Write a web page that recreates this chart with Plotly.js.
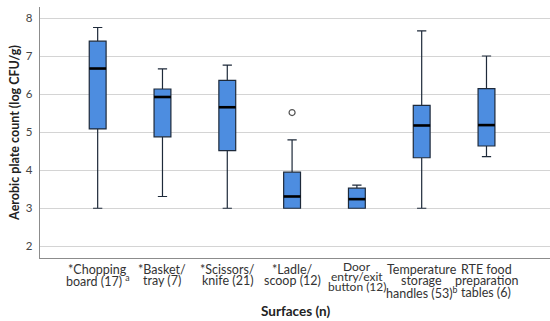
<!DOCTYPE html>
<html>
<head>
<meta charset="utf-8">
<script src="https://cdn.plot.ly/plotly-3.0.1.min.js"></script>
<style>html,body{margin:0;padding:0;background:#fff;}#chart{width:550px;height:321px;}</style>
</head>
<body>
<div id="chart"></div>
<script>
// Categories (x tick labels, lines separated by <br>)
const categories = [
  "*Chopping<br>board (17)\u00a0<sup>a</sup>",
  "*Basket/<br>tray (7)",
  "*Scissors/<br>knife (21)",
  "*Ladle/<br>scoop (12)",
  "Door<br>entry/exit<br>button (12)",
  "Temperature<br>storage<br>handles (53)<sup>b</sup>",
  "RTE food<br>preparation<br>tables (6)"
];
// Box statistics (log CFU/g)
const lowerWhisker = [3.00, 3.31, 3.00, 3.00, 3.00, 3.00, 4.36];
const q1Values     = [5.09, 4.88, 4.52, 3.00, 3.00, 4.33, 4.64];
const medians      = [6.68, 5.93, 5.66, 3.31, 3.24, 5.18, 5.19];
const q3Values     = [7.40, 6.14, 6.37, 3.95, 3.53, 5.71, 6.15];
const upperWhisker = [7.76, 6.67, 6.77, 4.80, 3.61, 7.67, 7.01];
// Outliers
const outlierCategory = [3];
const outlierValues   = [5.52];
// Y tick values
const yTicks = [2, 3, 4, 5, 6, 7, 8];

const positions = categories.map((c, i) => i);
const boxWidth = 0.26;
const compactLabel = 4; // the door label is set tighter in the source

const medX = [], medY = [];
positions.forEach((p, i) => {
  medX.push(p - boxWidth / 2, p + boxWidth / 2, null);
  medY.push(medians[i], medians[i], null);
});

const data = [
  {
    type: 'box',
    x: positions,
    q1: q1Values,
    median: medians,
    q3: q3Values,
    lowerfence: lowerWhisker,
    upperfence: upperWhisker,
    width: boxWidth,
    whiskerwidth: 0.55,
    fillcolor: '#4d8de0',
    line: {color: '#1e2a3a', width: 1.2},
    boxpoints: false,
    hoverinfo: 'none',
    showlegend: false
  },
  {
    type: 'scatter',
    mode: 'lines',
    x: medX,
    y: medY,
    line: {color: '#000000', width: 2.6},
    hoverinfo: 'none',
    showlegend: false
  },
  {
    type: 'scatter',
    mode: 'markers',
    x: outlierCategory,
    y: outlierValues,
    marker: {symbol: 'circle-open', size: 6, color: '#555555', line: {width: 1.2}},
    hoverinfo: 'none',
    showlegend: false
  }
];

// x category labels drawn line by line for the source's tighter line spacing
const annotations = [];
categories.forEach((label, i) => {
  const lines = label.split('<br>');
  const compact = (i === compactLabel);
  const first = compact ? 8.7 : 11;
  const step = compact ? 9.7 : 11.7;
  lines.forEach((ln, j) => {
    annotations.push({
      xref: 'x', yref: 'paper', x: positions[i], y: 0,
      xanchor: 'center', yanchor: 'middle',
      yshift: -(first + j * step),
      text: ln, showarrow: false, borderpad: 0,
      font: {size: compact ? 12 : 12.5, color: '#333333'}
    });
  });
});
annotations.push({
  xref: 'paper', yref: 'paper', x: 0.5, y: 0,
  xanchor: 'center', yanchor: 'middle', yshift: -53,
  text: '<b>Surfaces (n)</b>', showarrow: false,
  font: {size: 13.5, color: '#222222'}
});

const layout = {
  width: 550,
  height: 321,
  margin: {l: 40, r: 0, t: 7, b: 63},
  paper_bgcolor: '#ffffff',
  plot_bgcolor: '#ffffff',
  font: {family: 'Lato, "Open Sans", sans-serif', color: '#333333', size: 12},
  xaxis: {
    range: [-0.89, 6.98],
    tickvals: positions,
    showticklabels: false,
    ticks: '',
    showgrid: false,
    zeroline: false,
    showline: true,
    linecolor: '#8c8c8c',
    linewidth: 1.2
  },
  yaxis: {
    range: [1.69, 8.30],
    tickvals: yTicks,
    ticks: '',
    showgrid: true,
    gridcolor: '#d4d4d4',
    gridwidth: 1,
    zeroline: false,
    showline: true,
    linecolor: '#8c8c8c',
    linewidth: 1.2,
    ticklabelstandoff: 4,
    tickfont: {size: 11.5, color: '#444444'},
    title: {text: '<b>Aerobic plate count (log CFU/g)</b>', font: {size: 12.5, color: '#222222'}, standoff: 3}
  },
  annotations: annotations
};

Plotly.newPlot('chart', data, layout, {staticPlot: true, displayModeBar: false});
</script>
</body>
</html>
